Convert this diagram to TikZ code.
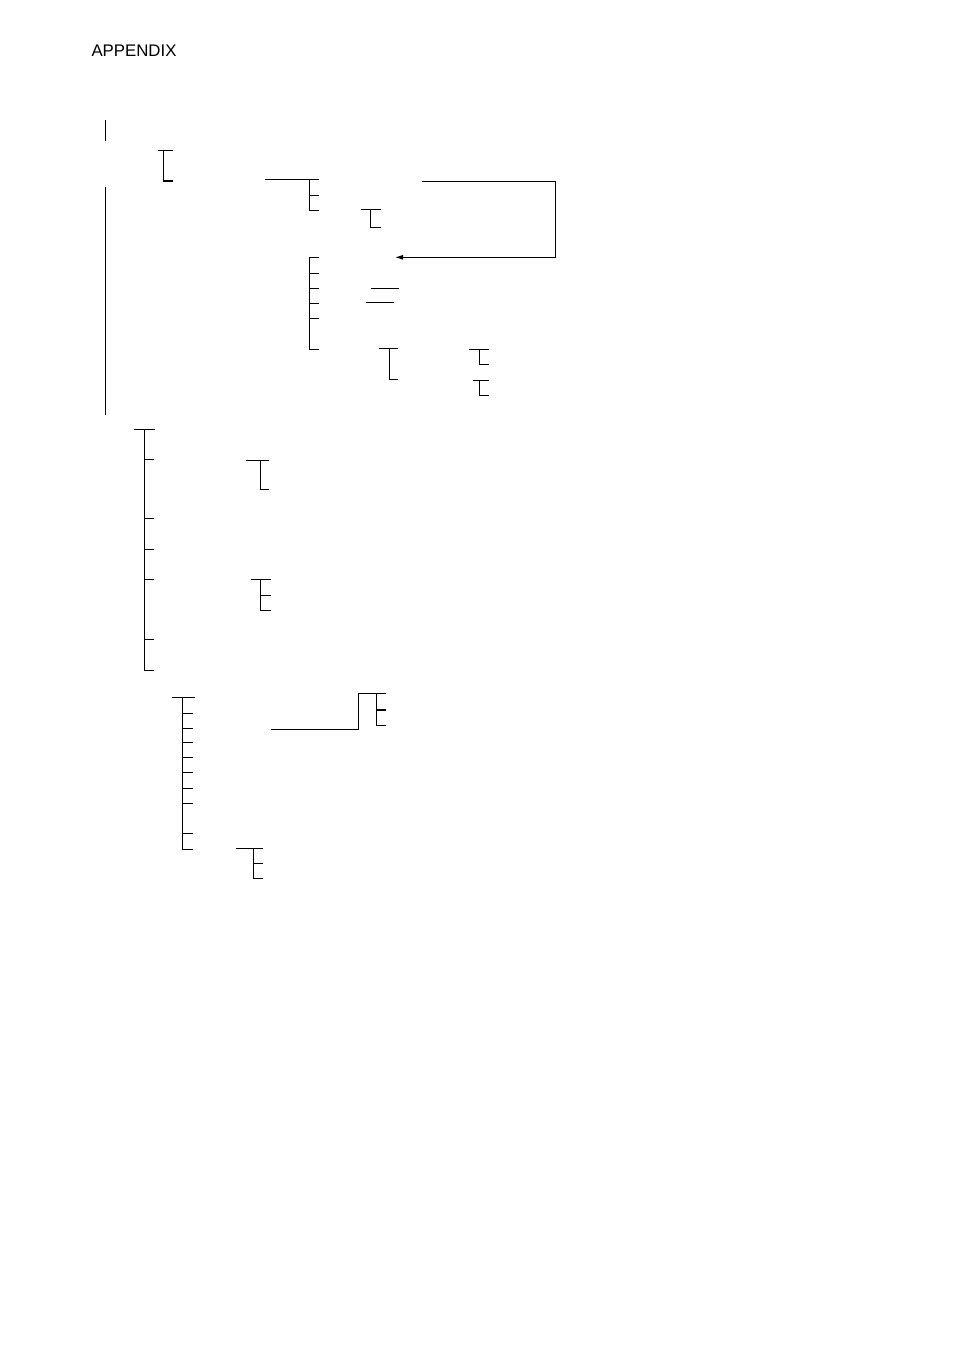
\documentclass[tikz,border=0pt]{standalone}
\usepackage{fontspec}
\setmainfont{Liberation Sans}
\usetikzlibrary{arrows.meta}
\begin{document}
\begin{tikzpicture}[x=1pt,y=-1pt,
  ln/.style={line width=1pt,line cap=butt},
  thk/.style={line width=1.7pt},
  lbl/.style={inner sep=0pt,anchor=base west,font=\fontsize{16.8}{19}\selectfont}]
\useasboundingbox (0,0) rectangle (954,1350);
\node[lbl] (title) at (91.3,56) {APPENDIX};
% top-left
\draw[ln] (105,120) -- (105,141);
\draw[ln] (158,150.3) -- (173,150.3);
\draw[ln] (163.3,150.3) -- (163.3,181);
\draw[thk] (163.3,181) -- (173,181);
\draw[ln] (105,187) -- (105,415);
% first group
\draw[ln] (265,179.5) -- (319,179.5);
\draw[ln] (309.3,179.5) -- (309.3,210) -- (319,210);
\draw[ln] (309.3,195) -- (319,195);
\draw[ln] (361,209.3) -- (381,209.3);
\draw[ln] (370.7,209.3) -- (370.7,227.3) -- (381,227.3);
% loop arrow
\coordinate (loopA) at (422.3,181.7);
\coordinate (loopB) at (395,257.3);
\draw[ln,-{Latex[length=8pt,width=5pt]}] (loopA) -- (555.7,181.7) -- (555.7,257.3) -- (loopB);
% second group
\draw[ln] (309.3,257.3) -- (309.3,349) -- (319,349);
\foreach \y in {257.3,273.3,288.3,303.3,318.3} \draw[ln] (309.3,\y) -- (319,\y);
\draw[ln] (371,288.3) -- (399,288.3);
\draw[ln] (366,302.3) -- (394,302.3);
\draw[ln] (379.3,348.3) -- (398,348.3);
\draw[ln] (389.3,348.3) -- (389.3,379) -- (398,379);
\draw[ln] (469,349) -- (489,349);
\draw[ln] (479.3,349) -- (479.3,364.3) -- (489,364.3);
\draw[ln] (473,380) -- (489,380);
\draw[ln] (479.3,380) -- (479.3,395) -- (489,395);
% middle tree
\draw[ln] (134,429.3) -- (154.7,429.3);
\draw[ln] (144.3,429.3) -- (144.3,670) -- (154,670);
\foreach \y in {459.3,518.3,549,579.3,639.3} \draw[ln] (144.3,\y) -- (154,\y);
\draw[ln] (246,460.3) -- (269,460.3);
\draw[ln] (260.3,460.3) -- (260.3,489.3) -- (269,489.3);
\draw[ln] (251.3,579.3) -- (271,579.3);
\draw[ln] (260.3,579.3) -- (260.3,610.3) -- (271,610.3);
\draw[ln] (260.3,595) -- (271,595);
% bottom tree
\draw[ln] (172,697.3) -- (194.7,697.3);
\draw[ln] (182.3,697.3) -- (182.3,849.3) -- (193,849.3);
\foreach \y in {713.3,728.3,742.3,757.3,772.3,788.3,803.3,833.3} \draw[ln] (182.3,\y) -- (193,\y);
\draw[ln] (271,729.3) -- (358.7,729.3) -- (358.7,693.3) -- (386,693.3);
\draw[ln] (376.7,693.3) -- (376.7,725) -- (386,725);
\draw[thk] (376.7,710) -- (386,710);
\draw[ln] (236.3,848.3) -- (263,848.3);
\draw[ln] (253.3,848.3) -- (253.3,878.3) -- (263,878.3);
\draw[ln] (253.3,863.3) -- (263,863.3);
\end{tikzpicture}
\end{document}
